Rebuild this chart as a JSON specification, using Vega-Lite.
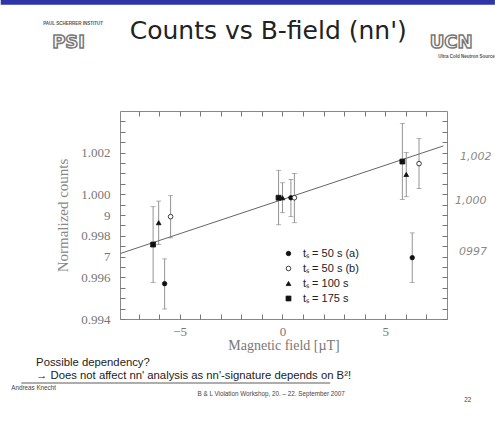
{
  "$schema": "https://vega.github.io/schema/vega-lite/v6.json",
  "autosize": "none",
  "width": 327,
  "height": 208,
  "padding": {"left": 120, "top": 111, "right": 48, "bottom": 102},
  "background": "#ffffff",
  "config": {
    "view": {"stroke": "#888888", "strokeWidth": 1},
    "axis": {"domain": false, "grid": false}
  },
  "resolve": {"axis": {"x": "independent", "y": "independent"}},
  "layer": [
    {
      "data": {"values": [{"x": -7.88, "y": 0.99715}, {"x": 7.82, "y": 1.00232}]},
      "mark": {"type": "line", "color": "#666666", "strokeWidth": 1, "clip": true},
      "encoding": {
        "x": {
          "field": "x", "type": "quantitative",
          "scale": {"domain": [-7.9, 8.0], "nice": false, "zero": false},
          "axis": {
            "orient": "bottom",
            "values": [-7, -6, -5, -4, -3, -2, -1, 0, 1, 2, 3, 4, 5, 6, 7],
            "labelExpr": "datum.value == -5 ? '−5' : datum.value == 0 ? '0' : datum.value == 5 ? '5' : ''",
            "tickSize": -5, "tickColor": "#777777",
            "labelPadding": 11,
            "labelFont": "Liberation Serif", "labelFontSize": 13, "labelColor": "#777777",
            "title": "Magnetic field [µT]",
            "titleFont": "Liberation Serif", "titleFontSize": 14, "titleFontWeight": "normal", "titleColor": "#777777",
            "titlePadding": 0
          }
        },
        "y": {
          "field": "y", "type": "quantitative",
          "scale": {"domain": [0.994, 1.004], "nice": false, "zero": false},
          "axis": {
            "orient": "left",
            "values": [0.994, 0.9945, 0.995, 0.9955, 0.996, 0.9965, 0.997, 0.9975, 0.998, 0.9985, 0.999, 0.9995, 1.0, 1.0005, 1.001, 1.0015, 1.002, 1.0025, 1.003, 1.0035],
            "labelExpr": "indexof(['0.9940','0.9960','0.9980','1.0000','1.0020'], format(datum.value,'.4f')) >= 0 ? format(datum.value,'.3f') : format(datum.value,'.4f') == '0.9990' ? '9' : format(datum.value,'.4f') == '0.9970' ? '7' : ''",
            "tickSize": -5, "tickColor": "#777777",
            "labelPadding": 15,
            "labelFont": "Liberation Serif", "labelFontSize": 13, "labelColor": "#777777",
            "title": "Normalized counts",
            "titleFont": "Liberation Serif", "titleFontSize": 15, "titleFontWeight": "normal", "titleColor": "#888888",
            "titlePadding": 10
          }
        }
      }
    },
    {
      "data": {"values": [{"x": -7.88, "y": 0.99715}, {"x": 7.82, "y": 1.00232}]},
      "mark": {"type": "line", "strokeOpacity": 0},
      "encoding": {
        "x": {
          "field": "x", "type": "quantitative",
          "axis": {"orient": "top", "values": [-7, -6, -5, -4, -3, -2, -1, 0, 1, 2, 3, 4, 5, 6, 7], "labels": false, "tickSize": -5, "tickColor": "#777777", "title": null}
        },
        "y": {
          "field": "y", "type": "quantitative",
          "axis": {"orient": "right", "values": [0.994, 0.9945, 0.995, 0.9955, 0.996, 0.9965, 0.997, 0.9975, 0.998, 0.9985, 0.999, 0.9995, 1.0, 1.0005, 1.001, 1.0015, 1.002, 1.0025, 1.003, 1.0035], "labels": false, "tickSize": -5, "tickColor": "#777777", "title": null}
        }
      }
    },
    {
      "data": {"name": "pts", "values": [
        {"series": "a", "x": -5.73, "y": 0.9957, "lo": 0.99448, "hi": 0.99689},
        {"series": "a", "x": 0.41, "y": 0.99983, "lo": 0.99892, "hi": 1.00071},
        {"series": "a", "x": 6.31, "y": 0.99695, "lo": 0.99576, "hi": 0.99814},
        {"series": "b", "x": -5.44, "y": 0.99892, "lo": 0.9979, "hi": 0.99993},
        {"series": "b", "x": 0.58, "y": 0.99983, "lo": 0.99863, "hi": 1.0010},
        {"series": "b", "x": 6.64, "y": 1.00147, "lo": 1.00027, "hi": 1.00267},
        {"series": "100", "x": -6.02, "y": 0.99863, "lo": 0.99758, "hi": 0.99967},
        {"series": "100", "x": 0.0, "y": 0.99983, "lo": 0.99911, "hi": 1.00055},
        {"series": "100", "x": 6.02, "y": 1.00095, "lo": 0.99988, "hi": 1.0020},
        {"series": "175", "x": -6.29, "y": 0.99758, "lo": 0.99576, "hi": 0.9994},
        {"series": "175", "x": -0.19, "y": 0.99983, "lo": 0.99853, "hi": 1.00115},
        {"series": "175", "x": 5.83, "y": 1.00157, "lo": 0.99975, "hi": 1.0034}
      ]},
      "layer": [
        {
          "mark": {"type": "errorbar", "color": "#777777", "thickness": 0.8, "ticks": {"size": 5, "thickness": 0.8}},
          "encoding": {
            "x": {"field": "x", "type": "quantitative", "axis": null},
            "y": {"field": "lo", "type": "quantitative", "axis": null},
            "y2": {"field": "hi"}
          }
        },
        {
          "mark": {"type": "point", "stroke": "#111111", "strokeWidth": 0.8, "opacity": 1},
          "encoding": {
            "x": {"field": "x", "type": "quantitative", "axis": null},
            "y": {"field": "y", "type": "quantitative", "axis": null},
            "shape": {"field": "series", "type": "nominal", "title": null,
              "scale": {"domain": ["a", "b", "100", "175"], "range": ["circle", "circle", "triangle-up", "square"]},
              "legend": {
                "orient": "none", "legendX": 163, "legendY": 137,
                "labelExpr": "datum.value == 'a' ? 'tₛ = 50 s (a)' : datum.value == 'b' ? 'tₛ = 50 s (b)' : datum.value == '100' ? 'tₛ = 100 s' : 'tₛ = 175 s'",
                "labelFont": "Liberation Sans", "labelFontSize": 11, "labelColor": "#222222",
                "rowPadding": 3, "symbolStrokeColor": "#111111", "symbolStrokeWidth": 0.8, "labelOffset": 9
              }
            },
            "fill": {"field": "series", "type": "nominal", "title": null,
              "scale": {"domain": ["a", "b", "100", "175"], "range": ["#111111", "#ffffff", "#111111", "#111111"]}},
            "size": {"field": "series", "type": "nominal", "title": null,
              "scale": {"domain": ["a", "b", "100", "175"], "range": [20, 24, 36, 28]}}
          }
        }
      ]
    },
    {
      "data": {"values": [
        {"x": 8.63, "y": 1.001786, "text": "1,002"},
        {"x": 8.39, "y": 0.999679, "text": "1,000"},
        {"x": 8.58, "y": 0.997231, "text": "0997"}
      ]},
      "mark": {"type": "text", "align": "left", "baseline": "middle", "font": "DejaVu Sans", "fontSize": 11, "fontWeight": 200, "color": "#8a8a8a", "fontStyle": "italic"},
      "encoding": {
        "x": {"field": "x", "type": "quantitative", "axis": null},
        "y": {"field": "y", "type": "quantitative", "axis": null},
        "text": {"field": "text"}
      }
    },
    {
      "data": {"values": [
        {"x": -0.69, "y": 1.007456, "text": "Counts vs B-field (nn')"}
      ]},
      "mark": {"type": "text", "align": "center", "baseline": "alphabetic", "font": "DejaVu Sans", "fontSize": 25, "color": "#222222"},
      "encoding": {
        "x": {"field": "x", "type": "quantitative", "axis": null},
        "y": {"field": "y", "type": "quantitative", "axis": null},
        "text": {"field": "text"}
      }
    },
    {
      "data": {"values": [
        {"x": -11.98, "y": 0.991758, "text": "Possible dependency?"},
        {"x": -11.98, "y": 0.991134, "text": "→ Does not affect nn' analysis as nn'-signature depends on B²!"}
      ]},
      "mark": {"type": "text", "align": "left", "baseline": "alphabetic", "font": "Liberation Sans", "fontSize": 11.3, "color": "#222222"},
      "encoding": {
        "x": {"field": "x", "type": "quantitative", "axis": null},
        "y": {"field": "y", "type": "quantitative", "axis": null},
        "text": {"field": "text"}
      }
    },
    {
      "data": {"values": [{"x": -12.7, "x2": 2.32, "y": 0.990928}]},
      "mark": {"type": "rule", "color": "#999999", "strokeWidth": 2, "opacity": 0.8},
      "encoding": {
        "x": {"field": "x", "type": "quantitative", "axis": null},
        "x2": {"field": "x2"},
        "y": {"field": "y", "type": "quantitative", "axis": null}
      }
    },
    {
      "data": {"values": [{"x": -13.7, "x2": 10.33, "y": 1.009233}]},
      "mark": {"type": "rule", "color": "#2e35a8", "strokeWidth": 5},
      "encoding": {
        "x": {"field": "x", "type": "quantitative", "axis": null},
        "x2": {"field": "x2"},
        "y": {"field": "y", "type": "quantitative", "axis": null}
      }
    },
    {
      "data": {"values": [
        {"x": -12.1, "y": 0.990702, "text": "Andreas Knecht", "pos": "left"},
        {"x": -0.55, "y": 0.990414, "text": "B & L Violation Workshop, 20. – 22. September 2007", "pos": "center"},
        {"x": 9.01, "y": 0.990126, "text": "22", "pos": "center"}
      ]},
      "mark": {"type": "text", "baseline": "middle", "font": "Liberation Sans", "fontSize": 6.3, "color": "#444444"},
      "encoding": {
        "x": {"field": "x", "type": "quantitative", "axis": null},
        "y": {"field": "y", "type": "quantitative", "axis": null},
        "text": {"field": "text"},
        "align": {"condition": {"test": "datum.pos == 'left'", "value": "left"}, "value": "center"}
      }
    },
    {
      "data": {"values": [
        {"x": -10.18, "y": 1.008177, "text": "PAUL SCHERRER INSTITUT"},
        {"x": 8.95, "y": 1.006592, "text": "Ultra Cold Neutron Source"}
      ]},
      "mark": {"type": "text", "align": "center", "baseline": "middle", "font": "Liberation Sans", "fontSize": 4.5, "fontWeight": "bold", "color": "#555555"},
      "encoding": {
        "x": {"field": "x", "type": "quantitative", "axis": null},
        "y": {"field": "y", "type": "quantitative", "axis": null},
        "text": {"field": "text"}
      }
    },
    {
      "data": {"values": [
        {"x": -10.4, "y": 1.007264, "text": "PSI"},
        {"x": 8.2, "y": 1.007264, "text": "UCN"}
      ]},
      "mark": {"type": "text", "align": "center", "baseline": "middle", "font": "DejaVu Sans", "fontSize": 18, "fontWeight": "bold", "color": "#ffffff", "stroke": "#777777", "strokeWidth": 1.5},
      "encoding": {
        "x": {"field": "x", "type": "quantitative", "axis": null},
        "y": {"field": "y", "type": "quantitative", "axis": null},
        "text": {"field": "text"}
      }
    }
  ]
}
